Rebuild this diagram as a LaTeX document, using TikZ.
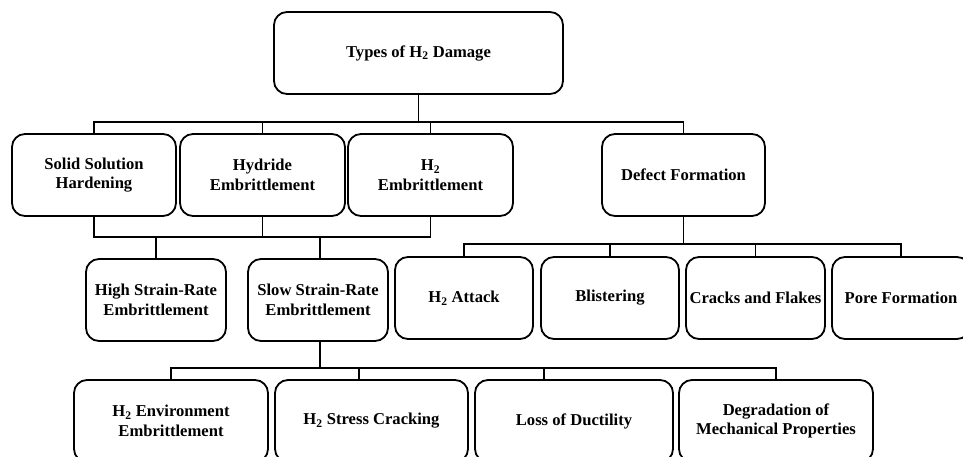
\documentclass[tikz,border=0pt]{standalone}
\usepackage{fontspec}
\setmainfont{Liberation Serif}
\begin{document}
\begin{tikzpicture}[x=1pt,y=-1pt,
  box/.style={draw, line width=1.8pt, rounded corners=13pt, minimum height=82pt,
    inner sep=0pt, align=center, font=\bfseries\fontsize{16.6}{19.5}\selectfont},
  conn/.style={line width=1.8pt, line cap=rect}]
\useasboundingbox (0,0) rectangle (963,457);
% nodes
\node[box, minimum width=289pt] (top) at (418.5,53) {Types of H\textsubscript{2} Damage};
\node[box, minimum width=164pt] (ssh) at (94,175) {Solid Solution\\Hardening};
\node[box, minimum width=165pt] (hyd) at (262.5,175) {Hydride\\Embrittlement};
\node[box, minimum width=165pt] (hem) at (430.5,175) {H\textsubscript{2}\\Embrittlement};
\node[box, minimum width=163pt] (def) at (683.5,175) {Defect Formation};
\node[box, minimum width=140pt] (hsr) at (156,300) {High Strain-Rate\\Embrittlement};
\node[box, minimum width=140pt] (ssr) at (318,300) {Slow Strain-Rate\\Embrittlement};
\node[box, minimum width=138pt] (att) at (464,298) {H\textsubscript{2} Attack};
\node[box, minimum width=138pt] (bli) at (610,298) {Blistering};
\node[box, minimum width=139pt] (crk) at (755.5,298) {Cracks and Flakes};
\node[box, minimum width=138pt] (por) at (901,298) {Pore Formation};
\node[box, minimum width=194pt] (env) at (171,421) {H\textsubscript{2} Environment\\Embrittlement};
\node[box, minimum width=193pt] (str) at (371.5,421) {H\textsubscript{2} Stress Cracking};
\node[box, minimum width=198pt] (los) at (574,421) {Loss of Ductility};
\node[box, minimum width=194pt] (deg) at (776,421) {Degradation of\\Mechanical Properties};
% bus levels
\coordinate (b1) at (0,122);
\coordinate (b2) at (0,237);
\coordinate (b3) at (0,244);
\coordinate (b4) at (0,368);
% top -> row 2
\draw[conn] (top.south) -- (top.south |- b1);
\draw[conn] (ssh.north) -- (ssh.north |- b1) -- (def.north |- b1) -- (def.north);
\draw[conn] (hyd.north) -- (hyd.north |- b1);
\draw[conn] (hem.north) -- (hem.north |- b1);
% row 2 (left three) -> row 3 left
\draw[conn] (ssh.south) -- (ssh.south |- b2) -- (hem.south |- b2) -- (hem.south);
\draw[conn] (hyd.south) -- (hyd.south |- b2);
\draw[conn] (hsr.north) -- (hsr.north |- b2);
\draw[conn] ([xshift=2pt]ssr.north) -- ([xshift=2pt]ssr.north |- b2);
% defect -> row 3 right
\draw[conn] (def.south) -- (def.south |- b3);
\draw[conn] (att.north) -- (att.north |- b3) -- (por.north |- b3) -- (por.north);
\draw[conn] (bli.north) -- (bli.north |- b3);
\draw[conn] (crk.north) -- (crk.north |- b3);
% slow -> row 4
\draw[conn] ([xshift=2pt]ssr.south) -- ([xshift=2pt]ssr.south |- b4);
\draw[conn] (env.north) -- (env.north |- b4) -- (deg.north |- b4) -- (deg.north);
\draw[conn] ([xshift=-12.5pt]str.north) -- ([xshift=-12.5pt]str.north |- b4);
\draw[conn] ([xshift=-30pt]los.north) -- ([xshift=-30pt]los.north |- b4);
\end{tikzpicture}
\end{document}
